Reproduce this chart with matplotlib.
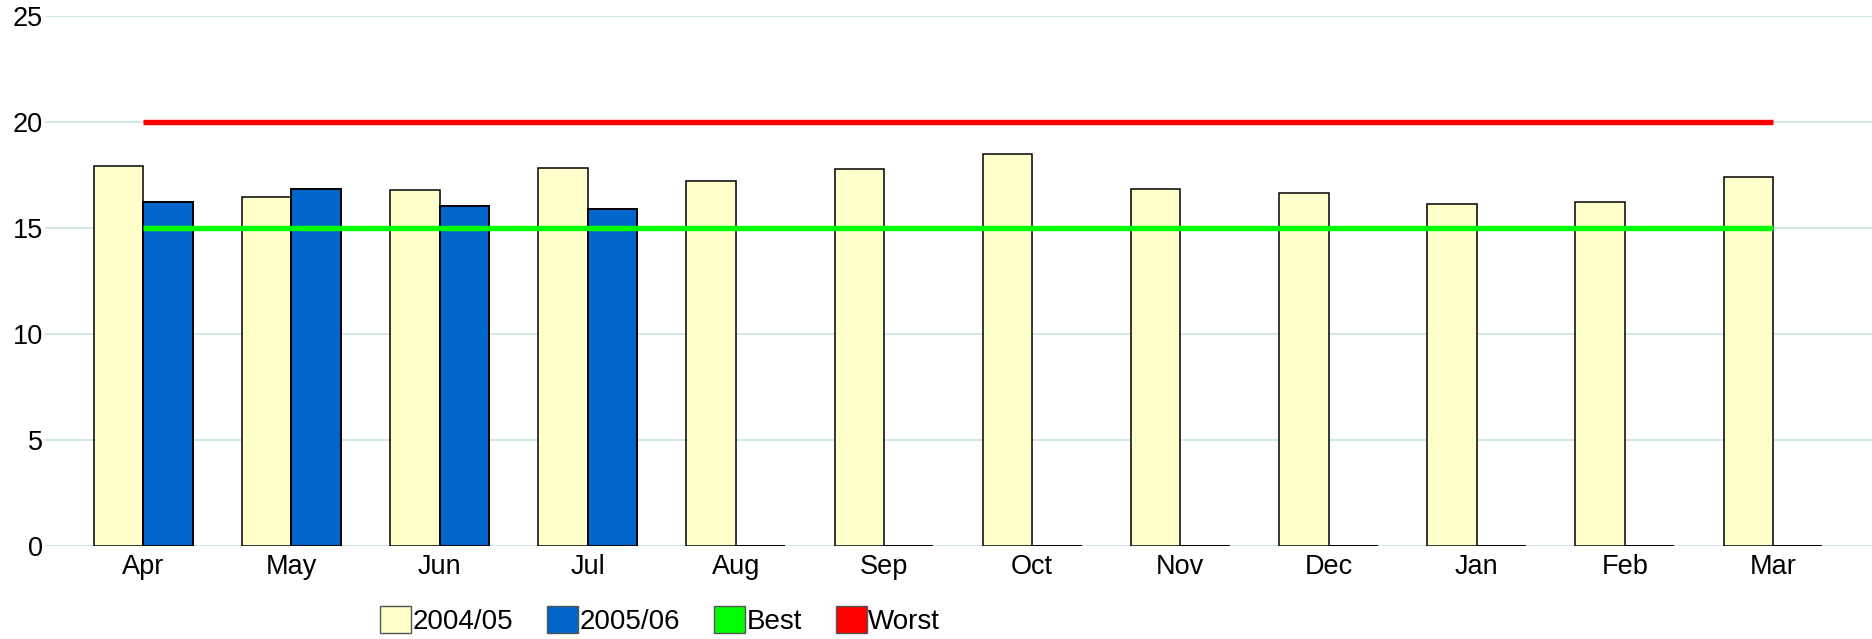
import numpy as np
import matplotlib
matplotlib.use("Agg")
import matplotlib.pyplot as plt
from matplotlib.patches import Patch

plt.rcParams['font.family'] = ['Liberation Sans', 'DejaVu Sans']

months = ['Apr', 'May', 'Jun', 'Jul', 'Aug', 'Sep', 'Oct', 'Nov', 'Dec', 'Jan', 'Feb', 'Mar']
y2004 = [17.93, 16.43, 16.77, 17.81, 17.22, 17.77, 18.47, 16.81, 16.63, 16.10, 16.19, 17.39]
y2005 = [16.21, 16.81, 16.02, 15.90, 0, 0, 0, 0, 0, 0, 0, 0]
best = 15
worst = 20

fig = plt.figure(figsize=(18.72, 6.39), dpi=100)
W, H = 1872, 639
ax = fig.add_axes([45 / W, 1 - 546 / H, 1 - 45 / W, (546 - 15.5) / H])

x = np.arange(len(months))
bw = 1 / 3
ax.bar(x - bw / 2, y2004, bw, color='#FFFFCC', edgecolor='black', linewidth=1.1, zorder=2)
ax.bar(x + bw / 2, y2005, bw, color='#0066CC', edgecolor='black', linewidth=1.4, zorder=2)
ax.plot([x[0], x[-1]], [best, best], color='#00FF00', lw=3.9, solid_capstyle='butt', zorder=3)
ax.plot([x[0], x[-1]], [worst, worst], color='#FF0000', lw=3.9, solid_capstyle='butt', zorder=3)

ax.set_xlim(-0.663, 11.668)
ax.set_ylim(0, 25)
ax.set_yticks([0, 5, 10, 15, 20, 25])
ax.set_xticks(x)
ax.set_xticklabels(months)
ax.yaxis.grid(True, color='#c8e4e4', lw=1.2, zorder=0)
ax.set_axisbelow(True)
for s in ax.spines.values():
    s.set_visible(False)
ax.tick_params(axis='both', length=0, labelsize=19.5)
ax.tick_params(axis='x', pad=6)
ax.tick_params(axis='y', pad=1.5)

handles = [Patch(facecolor='#FFFFCC', edgecolor='#555555', lw=1),
           Patch(facecolor='#0066CC', edgecolor='#555555', lw=1),
           Patch(facecolor='#00FF00', edgecolor='#555555', lw=1),
           Patch(facecolor='#FF0000', edgecolor='#555555', lw=1)]
fig.legend(handles, ['2004/05', '2005/06', 'Best', 'Worst'], loc='center left',
           bbox_to_anchor=(380 / W, 1 - 620.5 / H), ncol=4, frameon=False,
           fontsize=20, borderpad=0, borderaxespad=0, handlelength=1.12,
           handleheight=1.12, handletextpad=0.05, columnspacing=1.22)

fig.savefig('out.png', dpi=100)
